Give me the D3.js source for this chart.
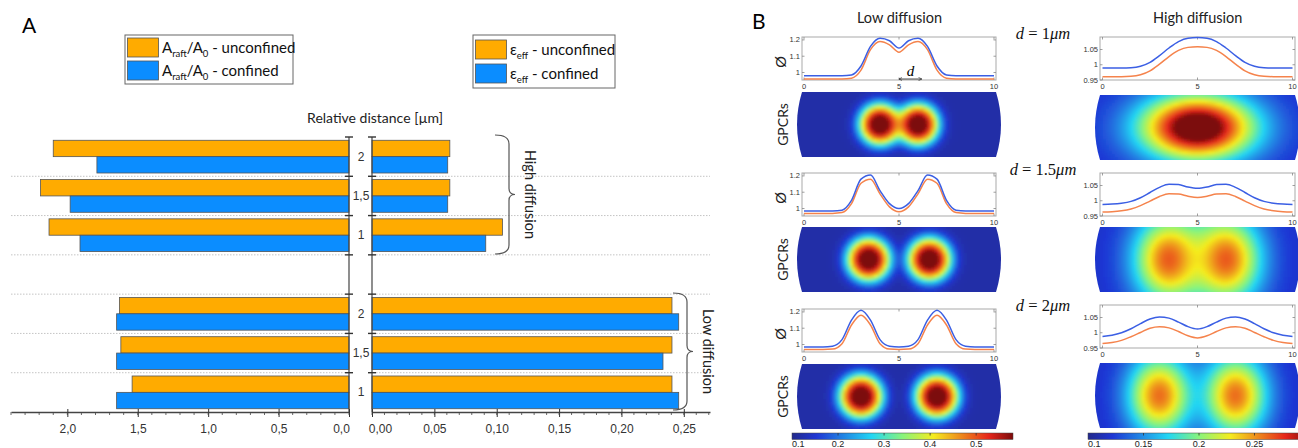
<!DOCTYPE html>
<html>
<head>
<meta charset="utf-8">
<script src="https://cdn.jsdelivr.net/npm/d3@7"></script>
<style>
  body { margin: 0; background: #fff; }
  svg { display: block; }
</style>
</head>
<body>
<svg id="fig" width="1298" height="448"></svg>
<script>
// ---------------- data: panel A (bars) ----------------
var diffusion = ['High diffusion', 'Low diffusion'];
var distLabels = ['2', '1,5', '1'];                 // top to bottom inside each group
var barSeries = ['unconfined', 'confined'];
var areaUnconfined = [[2.10, 2.19, 2.13], [1.63, 1.62, 1.54]];
var areaConfined   = [[1.79, 1.98, 1.91], [1.65, 1.65, 1.65]];
var effUnconfined  = [[0.0624, 0.0624, 0.1046], [0.2405, 0.2405, 0.2405]];
var effConfined    = [[0.0607, 0.0607, 0.0912], [0.2459, 0.2333, 0.2459]];
var areaTicks = [0, 0.5, 1, 1.5, 2];
var effTicks = [0, 0.05, 0.1, 0.15, 0.2, 0.25];

// ---------------- data: panel B (profiles + maps) ----------------
var distances = ['1', '1.5', '2'];
var profileX = [0, 0.5, 1, 1.5, 2, 2.5, 3, 3.5, 4, 4.5, 5, 5.5, 6, 6.5, 7, 7.5, 8, 8.5, 9, 9.5, 10];
var lowProfileBlue = [
  [0.98, 0.98, 0.98, 0.98, 0.98, 0.985, 1.04, 1.16, 1.21, 1.195, 1.15, 1.195, 1.21, 1.16, 1.04, 0.985, 0.98, 0.98, 0.98, 0.98, 0.98],
  [0.985, 0.985, 0.985, 0.985, 0.99, 1.05, 1.18, 1.205, 1.11, 1.03, 1.0, 1.03, 1.11, 1.205, 1.18, 1.05, 0.99, 0.985, 0.985, 0.985, 0.985],
  [0.985, 0.985, 0.985, 0.99, 1.03, 1.15, 1.21, 1.15, 1.03, 0.99, 0.985, 0.99, 1.03, 1.15, 1.21, 1.15, 1.03, 0.99, 0.985, 0.985, 0.985]
];
var lowProfileOrange = [
  [0.96, 0.96, 0.96, 0.96, 0.96, 0.965, 1.015, 1.14, 1.19, 1.17, 1.125, 1.17, 1.19, 1.14, 1.015, 0.965, 0.96, 0.96, 0.96, 0.96, 0.96],
  [0.97, 0.97, 0.97, 0.97, 0.975, 1.03, 1.155, 1.18, 1.09, 1.01, 0.98, 1.01, 1.09, 1.18, 1.155, 1.03, 0.975, 0.97, 0.97, 0.97, 0.97],
  [0.97, 0.97, 0.97, 0.972, 1.005, 1.12, 1.18, 1.12, 1.005, 0.972, 0.97, 0.972, 1.005, 1.12, 1.18, 1.12, 1.005, 0.972, 0.97, 0.97, 0.97]
];
var highProfileBlue = [
  [0.989, 0.989, 0.989, 0.99, 0.995, 1.008, 1.03, 1.055, 1.076, 1.087, 1.089, 1.087, 1.076, 1.055, 1.03, 1.008, 0.995, 0.99, 0.989, 0.989, 0.989],
  [0.988, 0.989, 0.992, 0.998, 1.01, 1.027, 1.044, 1.054, 1.053, 1.045, 1.041, 1.045, 1.053, 1.054, 1.044, 1.027, 1.01, 0.998, 0.992, 0.989, 0.988],
  [0.988, 0.992, 1.0, 1.013, 1.03, 1.045, 1.052, 1.048, 1.035, 1.02, 1.012, 1.02, 1.035, 1.048, 1.052, 1.045, 1.03, 1.013, 1.0, 0.992, 0.988]
];
var highProfileOrange = [
  [0.961, 0.961, 0.961, 0.962, 0.967, 0.98, 1.002, 1.027, 1.047, 1.057, 1.059, 1.057, 1.047, 1.027, 1.002, 0.98, 0.967, 0.962, 0.961, 0.961, 0.961],
  [0.963, 0.964, 0.967, 0.973, 0.984, 0.999, 1.014, 1.023, 1.022, 1.015, 1.011, 1.015, 1.022, 1.023, 1.014, 0.999, 0.984, 0.973, 0.967, 0.964, 0.963],
  [0.965, 0.968, 0.975, 0.987, 1.001, 1.015, 1.02, 1.016, 1.004, 0.99, 0.983, 0.99, 1.004, 1.016, 1.02, 1.015, 1.001, 0.987, 0.975, 0.968, 0.965]
];
var lowYTicks = [1, 1.1, 1.2];
var highYTicks = [0.95, 1, 1.05];

// GPCR maps: blob centres (µm along the 0-10 axis), peak level, width (µm)
var lowBlobCenters = [[4, 6], [3.4, 6.6], [3, 7]];
var lowBlobPeak = [0.6, 0.6, 0.6];
var lowBlobWidth = [1.1, 1.15, 1.15];
var lowBackground = 0.12;
var highBlobCenters = [[5], [3.5, 6.5], [3, 7]];
var highBlobPeak = [0.33, 0.265, 0.26];
var highBlobWidthX = [2.1, 1.3, 1.15];
var highBlobWidthY = [1.2, 1.6, 1.45];
var highBackground = 0.118;
var lowColorTicks = [0.1, 0.2, 0.3, 0.4, 0.5];
var highColorTicks = [0.1, 0.15, 0.2, 0.25];

// ---------------- setup ----------------
var sans = 'Lato, "Open Sans", sans-serif';
var arial = '"Liberation Sans", Arial, sans-serif';
var serif = '"Liberation Serif", "DejaVu Serif", serif';
var comma = d3.formatLocale({ decimal: ',', thousands: '.', grouping: [3], currency: ['', ''] });
var barColors = { unconfined: '#ffab00', confined: '#0b8dff' };
var lineBlue = '#3b5fe4', lineOrange = '#f5834c';

var svg = d3.select('#fig');
svg.append('rect').attr('width', 1298).attr('height', 448).attr('fill', '#fff');
var defs = svg.append('defs');

// ======================= PANEL A =======================
var gA = svg.append('g');

gA.append('text').attr('x', 22).attr('y', 33).attr('font-family', sans)
  .attr('font-size', 21).text('A');

// rows from top to bottom, with one empty row between the two groups
var rows = [];
diffusion.forEach(function (g, gi) {
  if (gi > 0) rows.push({ key: 'gap' });
  distLabels.forEach(function (d, di) {
    rows.push({
      key: gi + '-' + di, label: d,
      area: { unconfined: areaUnconfined[gi][di], confined: areaConfined[gi][di] },
      eff: { unconfined: effUnconfined[gi][di], confined: effConfined[gi][di] }
    });
  });
});
var bars = rows.filter(function (r) { return r.label; });

var yRow = d3.scaleBand().domain(rows.map(function (r) { return r.key; })).range([137, 412]);
var ySer = d3.scaleBand().domain(barSeries).range([0, yRow.bandwidth()]).paddingOuter(0.2);
var xArea = d3.scaleLinear().domain([0, 2.4]).range([349, 11]);
var xEff = d3.scaleLinear().domain([0, 0.271]).range([372, 710]);

// dotted grid at the row boundaries
var bounds = rows.slice(1).map(function (r) { return yRow(r.key); });
[[xArea.range()[1], xArea(0) - 4], [xEff(0) + 4, xEff.range()[1]]].forEach(function (ext) {
  gA.selectAll(null).data(bounds).join('line')
    .attr('x1', ext[0]).attr('x2', ext[1])
    .attr('y1', function (d) { return d; }).attr('y2', function (d) { return d; })
    .attr('stroke', '#c4c4c4').attr('stroke-width', 1).attr('stroke-dasharray', '1.5,1.5');
});

// bars
barSeries.forEach(function (s) {
  gA.selectAll(null).data(bars).join('rect')
    .attr('x', function (d) { return xArea(d.area[s]); })
    .attr('y', function (d) { return yRow(d.key) + ySer(s); })
    .attr('width', function (d) { return xArea(0) - xArea(d.area[s]); })
    .attr('height', ySer.bandwidth())
    .attr('fill', barColors[s]).attr('stroke', '#555').attr('stroke-width', 0.8);
  gA.selectAll(null).data(bars).join('rect')
    .attr('x', xEff(0))
    .attr('y', function (d) { return yRow(d.key) + ySer(s); })
    .attr('width', function (d) { return xEff(d.eff[s]) - xEff(0); })
    .attr('height', ySer.bandwidth())
    .attr('fill', barColors[s]).attr('stroke', '#555').attr('stroke-width', 0.8);
});

// vertical axes with marks at every row boundary
var allBounds = [yRow.range()[0]].concat(bounds);
[xArea(0), xEff(0)].forEach(function (ax) {
  gA.append('line').attr('x1', ax).attr('x2', ax).attr('y1', 137).attr('y2', 412)
    .attr('stroke', '#444').attr('stroke-width', 1.2);
  gA.selectAll(null).data(allBounds).join('line')
    .attr('x1', ax - 4).attr('x2', ax + 4)
    .attr('y1', function (d) { return d; }).attr('y2', function (d) { return d; })
    .attr('stroke', '#333').attr('stroke-width', 1.4);
});

// category labels between the two charts
gA.selectAll(null).data(bars).join('text')
  .attr('x', 361).attr('y', function (d) { return yRow(d.key) + yRow.bandwidth() / 2; })
  .attr('text-anchor', 'middle').attr('dominant-baseline', 'central')
  .attr('font-family', arial).attr('font-size', 12).attr('fill', '#333')
  .text(function (d) { return d.label; });

// bottom axes
function bottomAxis(scale, ticks, minorStep, fmt, firstShift) {
  var g = gA.append('g').attr('transform', 'translate(0,412)');
  g.call(d3.axisBottom(scale).tickValues(ticks).tickFormat(fmt)
    .tickSizeInner(5).tickSizeOuter(0).tickPadding(7));
  g.attr('font-family', arial).attr('font-size', 12);
  g.select('.domain').attr('stroke', '#444').attr('stroke-width', 1.4);
  g.selectAll('.tick line').attr('stroke', '#333').attr('y1', -3);
  g.selectAll('.tick text').attr('fill', '#333')
    .attr('dx', function (d) { return d === 0 ? firstShift : 0; });
  var minor = d3.range(0, scale.domain()[1] + 1e-9, minorStep);
  g.selectAll(null).data(minor).join('line')
    .attr('x1', function (d) { return scale(d); }).attr('x2', function (d) { return scale(d); })
    .attr('y1', 0).attr('y2', 3).attr('stroke', '#444').attr('stroke-width', 0.8);
}
bottomAxis(xArea, areaTicks, 0.1, comma.format('.1f'), -8);
bottomAxis(xEff, effTicks, 0.01, comma.format('.2f'), 8);

gA.append('text').attr('x', 375).attr('y', 123).attr('text-anchor', 'middle')
  .attr('font-family', sans).attr('font-size', 14).attr('fill', '#222')
  .text('Relative distance [\u00b5m]');

// legends
function legend(x, y, w, h, rowsY, labelParts) {
  var g = gA.append('g');
  g.append('rect').attr('x', x).attr('y', y).attr('width', w).attr('height', h)
    .attr('fill', '#fff').attr('stroke', '#666').attr('stroke-width', 1);
  barSeries.forEach(function (s, i) {
    g.append('rect').attr('x', x + 2.5).attr('y', rowsY[i] - 9.5).attr('width', 31).attr('height', 19)
      .attr('fill', barColors[s]).attr('stroke', '#555').attr('stroke-width', 0.8);
    var t = g.append('text').attr('x', x + 37).attr('y', rowsY[i] + 5.5)
      .attr('font-family', sans).attr('font-size', 15).attr('fill', '#111');
    var shift = 0;
    labelParts.concat([' - ' + s]).forEach(function (p) {
      var sub = typeof p === 'object';
      var ts = t.append('tspan').text(sub ? p.sub : p);
      var want = sub ? 4 : 0;
      if (want !== shift) ts.attr('dy', want - shift);
      if (sub) ts.attr('font-size', 9.5);
      shift = want;
    });
  });
}
legend(125, 35, 168, 49, [47.5, 70.5], ['A', { sub: 'raft' }, '/A', { sub: '0' }]);
legend(473, 35, 142, 53, [49.5, 73.5], ['\u03b5', { sub: 'eff' }]);

// curly braces for the two groups
function brace(x0, y0, y1, w) {
  var xa = x0 + w, xt = xa + 6, ym = (y0 + y1) / 2;
  return 'M' + x0 + ',' + y0 + ' Q' + xa + ',' + y0 + ' ' + xa + ',' + (y0 + 9) +
    ' L' + xa + ',' + (ym - 6) + ' Q' + xa + ',' + ym + ' ' + xt + ',' + ym +
    ' Q' + xa + ',' + ym + ' ' + xa + ',' + (ym + 6) +
    ' L' + xa + ',' + (y1 - 9) + ' Q' + xa + ',' + y1 + ' ' + x0 + ',' + y1;
}
var braces = [
  { label: diffusion[0], x0: 495, y0: 135, y1: 254, tx: 530 },
  { label: diffusion[1], x0: 673, y0: 293, y1: 410, tx: 708 }
];
braces.forEach(function (b) {
  gA.append('path').attr('d', brace(b.x0, b.y0, b.y1, 14))
    .attr('fill', 'none').attr('stroke', '#555').attr('stroke-width', 1.2);
  gA.append('text').attr('transform', 'translate(' + b.tx + ',' + ((b.y0 + b.y1) / 2) + ') rotate(90)')
    .attr('text-anchor', 'middle').attr('dominant-baseline', 'central')
    .attr('font-family', sans).attr('font-size', 14.5).attr('fill', '#222').text(b.label);
});

// ======================= PANEL B =======================
var gB = svg.append('g');
gB.append('text').attr('x', 752).attr('y', 29).attr('font-family', sans)
  .attr('font-size', 21).text('B');

var jet = d3.scaleLinear()
  .domain([0, 0.11, 0.36, 0.5, 0.64, 0.89, 1])
  .range(['#232a8c', '#1f36d4', '#22d6f4', '#88f47c', '#f5ec1e', '#e6261b', '#7c0b0b'])
  .clamp(true);

defs.append('filter').attr('id', 'soft').attr('x', '-5%').attr('y', '-10%')
  .attr('width', '110%').attr('height', '120%')
  .append('feGaussianBlur').attr('stdDeviation', 1.6);

var columns = [
  {
    title: diffusion[1], cx: 899.5, x0: 802, x1: 996, xr: [804, 994],
    plotTop: [37, 173, 309], heatTop: [92, 227, 364],
    yDomain: [0.954, 1.218], yTicks: lowYTicks, yFmt: d3.format('~g'),
    blue: lowProfileBlue, orange: lowProfileOrange,
    cMin: 0.1, cMax: 0.58, cbar: [792, 1013], cTicks: lowColorTicks,
    value: function (r, xu, yu) {
      var prod = 1;
      lowBlobCenters[r].forEach(function (c) {
        var q = Math.sqrt((xu - c) * (xu - c) + yu * yu) / lowBlobWidth[r];
        prod *= 1 - Math.exp(-q * q * q);
      });
      return lowBackground + (lowBlobPeak[r] - lowBackground) * (1 - prod);
    }
  },
  {
    title: 'High diffusion', cx: 1197.7, x0: 1100, x1: 1295, xr: [1102.5, 1292.5],
    plotTop: [37, 173, 305], heatTop: [95, 227, 363],
    yDomain: [0.95, 1.091], yTicks: highYTicks, yFmt: d3.format('~g'),
    blue: highProfileBlue, orange: highProfileOrange,
    cMin: 0.1, cMax: 0.3, cbar: [1088, 1310], cTicks: highColorTicks,
    value: function (r, xu, yu) {
      var prod = 1, sx = highBlobWidthX[r], sy = highBlobWidthY[r];
      highBlobCenters[r].forEach(function (c) {
        prod *= 1 - Math.exp(-((xu - c) * (xu - c) / (2 * sx * sx) + yu * yu / (2 * sy * sy)));
      });
      return highBackground + (highBlobPeak[r] - highBackground) * (1 - prod);
    }
  }
];
var plotH = 43, heatH = 65, cell = 3;

columns.forEach(function (col, ci) {
  gB.append('text').attr('x', col.cx).attr('y', 23).attr('text-anchor', 'middle')
    .attr('font-family', sans).attr('font-size', 14.5).attr('fill', '#222').text(col.title);

  var xs = d3.scaleLinear().domain([0, 10]).range(col.xr);
  var pxPerUm = xs(1) - xs(0);
  var color = d3.scaleLinear().domain([col.cMin, col.cMax]).range([0, 1]).clamp(true);

  distances.forEach(function (dist, r) {
    var top = col.plotTop[r];
    var ys = d3.scaleLinear().domain(col.yDomain).range([top + plotH, top]);
    var g = gB.append('g');

    // profile box
    g.append('rect').attr('x', col.x0).attr('y', top).attr('width', col.x1 - col.x0).attr('height', plotH)
      .attr('fill', '#fff').attr('stroke', '#a9a9a9').attr('stroke-width', 1);
    g.selectAll(null).data([0, 5, 10]).join('path')
      .attr('d', function (d) {
        var x = xs(d);
        return 'M' + x + ',' + (top + plotH) + 'v-2.5M' + x + ',' + top + 'v2.5';
      })
      .attr('stroke', '#888').attr('stroke-width', 0.8);
    g.selectAll(null).data(col.yTicks).join('path')
      .attr('d', function (d) { return 'M' + col.x0 + ',' + ys(d) + 'h2.5M' + col.x1 + ',' + ys(d) + 'h-2.5'; })
      .attr('stroke', '#888').attr('stroke-width', 0.8);
    g.selectAll(null).data(col.yTicks).join('text')
      .attr('x', col.x0 - 2).attr('y', function (d) { return ys(d); })
      .attr('text-anchor', 'end').attr('dominant-baseline', 'central')
      .attr('font-family', arial).attr('font-size', 7.5).attr('fill', '#333')
      .text(function (d) { return col.yFmt(d); });
    g.selectAll(null).data([0, 5, 10]).join('text')
      .attr('x', function (d) { return xs(d); }).attr('y', top + plotH + 9)
      .attr('text-anchor', 'middle')
      .attr('font-family', arial).attr('font-size', 7.5).attr('fill', '#333')
      .text(function (d) { return d; });

    var line = d3.line()
      .x(function (d, i) { return xs(profileX[i]); })
      .y(function (d) { return ys(d); })
      .curve(d3.curveMonotoneX);
    g.append('path').attr('d', line(col.orange[r])).attr('fill', 'none')
      .attr('stroke', lineOrange).attr('stroke-width', 1.5);
    g.append('path').attr('d', line(col.blue[r])).attr('fill', 'none')
      .attr('stroke', lineBlue).attr('stroke-width', 1.5);

    // heat map of GPCR density, clipped to the barrel outline
    var hTop = col.heatTop[r], hMid = hTop + heatH / 2, b = 10;
    var outline = 'M' + col.x0 + ',' + hTop + ' L' + col.x1 + ',' + hTop +
      ' Q' + (col.x1 + b) + ',' + hMid + ' ' + col.x1 + ',' + (hTop + heatH) +
      ' L' + col.x0 + ',' + (hTop + heatH) +
      ' Q' + (col.x0 - b) + ',' + hMid + ' ' + col.x0 + ',' + hTop + 'Z';
    var clipId = 'clip-' + ci + '-' + r;
    defs.append('clipPath').attr('id', clipId).append('path').attr('d', outline);

    var cells = [];
    for (var px = col.x0 - 9; px < col.x1 + 9; px += cell) {
      for (var py = hTop - 4; py < hTop + heatH + 4; py += cell) {
        var xu = xs.invert(px + cell / 2), yu = (py + cell / 2 - hMid) / pxPerUm;
        cells.push({ x: px, y: py, v: col.value(r, xu, yu) });
      }
    }
    g.append('g').attr('clip-path', 'url(#' + clipId + ')')
      .append('g').attr('filter', 'url(#soft)')
      .selectAll('rect').data(cells).join('rect')
      .attr('x', function (d) { return d.x; }).attr('y', function (d) { return d.y; })
      .attr('width', cell + 0.5).attr('height', cell + 0.5)
      .attr('fill', function (d) { return jet(color(d.v)); });

    if (ci === 0) {
      g.append('text').attr('transform', 'translate(780,' + (top + 25) + ') rotate(-90)')
        .attr('text-anchor', 'middle').attr('dominant-baseline', 'central')
        .attr('font-family', arial).attr('font-size', 15).attr('fill', '#222').text('\u00d8');
      g.append('text').attr('transform', 'translate(782,' + hMid + ') rotate(-90)')
        .attr('text-anchor', 'middle').attr('dominant-baseline', 'central')
        .attr('font-family', sans).attr('font-size', 14).attr('fill', '#222').text('GPCRs');

      var dl = gB.append('text').attr('x', 1043).attr('y', top + 2)
        .attr('text-anchor', 'middle').attr('font-family', serif).attr('font-size', 16.5).attr('fill', '#111');
      dl.append('tspan').attr('font-style', 'italic').text('d');
      dl.append('tspan').text(' = ' + dist);
      dl.append('tspan').attr('font-style', 'italic').text('\u03bcm');
    }
  });

  // colour bar
  var gid = 'cbar-' + ci;
  var grad = defs.append('linearGradient').attr('id', gid);
  jet.domain().forEach(function (t) {
    grad.append('stop').attr('offset', t).attr('stop-color', jet(t));
  });
  var cx = d3.scaleLinear().domain([col.cMin, col.cMax]).range(col.cbar);
  gB.append('rect').attr('x', col.cbar[0]).attr('y', 433)
    .attr('width', col.cbar[1] - col.cbar[0]).attr('height', 6.5)
    .attr('fill', 'url(#' + gid + ')').attr('stroke', '#444').attr('stroke-width', 0.5);
  gB.selectAll(null).data(col.cTicks.slice(1)).join('line')
    .attr('x1', function (d) { return cx(d); }).attr('x2', function (d) { return cx(d); })
    .attr('y1', 433).attr('y2', 435.5).attr('stroke', '#333').attr('stroke-width', 0.8);
  gB.selectAll(null).data(col.cTicks).join('text')
    .attr('x', function (d) { return cx(d); }).attr('y', 447)
    .attr('text-anchor', function (d, i) { return i === 0 ? 'start' : 'middle'; })
    .attr('font-family', arial).attr('font-size', 9).attr('fill', '#222')
    .text(function (d) { return d; });
});

// separation marker on the first low-diffusion profile
defs.append('marker').attr('id', 'arr').attr('viewBox', '0 0 6 6').attr('refX', 5).attr('refY', 3)
  .attr('markerWidth', 5).attr('markerHeight', 5).attr('orient', 'auto-start-reverse')
  .append('path').attr('d', 'M0,0.5 L5,3 L0,5.5').attr('fill', 'none').attr('stroke', '#222').attr('stroke-width', 0.9);
var xd = d3.scaleLinear().domain([0, 10]).range(columns[0].xr);
gB.append('line').attr('x1', xd(5)).attr('x2', xd(6.2)).attr('y1', 79).attr('y2', 79)
  .attr('stroke', '#222').attr('stroke-width', 0.8)
  .attr('marker-start', 'url(#arr)').attr('marker-end', 'url(#arr)');
gB.append('text').attr('x', xd(5.6)).attr('y', 76).attr('text-anchor', 'middle')
  .attr('font-family', serif).attr('font-style', 'italic').attr('font-size', 15).text('d');
</script>
</body>
</html>
